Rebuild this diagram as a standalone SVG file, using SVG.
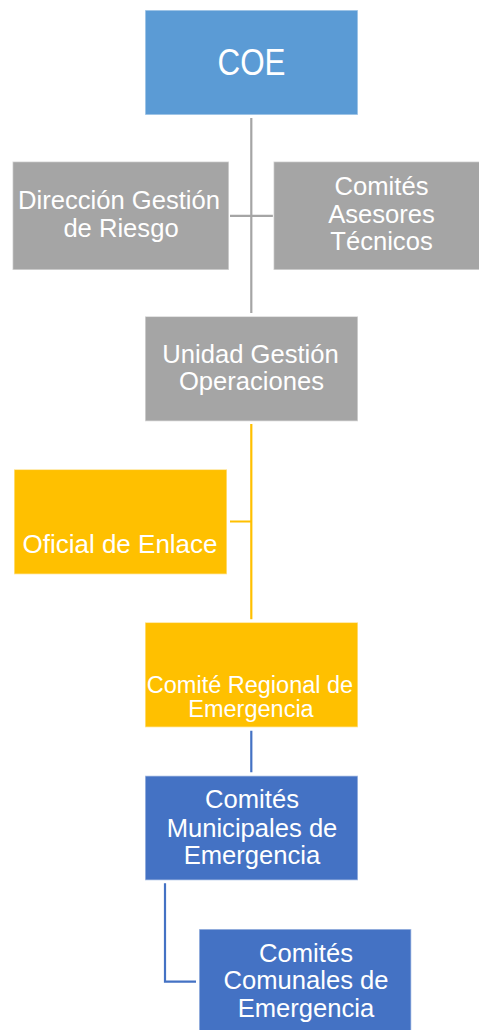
<svg xmlns="http://www.w3.org/2000/svg" width="479" height="1030" viewBox="0 0 479 1030">
<style>
text{font-family:"Liberation Sans",Arial,sans-serif;fill:#fff;text-anchor:middle}
.box{stroke:#fff;stroke-opacity:0.55;stroke-width:1.5}
.gray{fill:#A5A5A5}
.yel{fill:#FFC000}
.blue{fill:#4472C4}
.t{font-size:25.6px}
.c{fill:none;stroke-width:2.2}
</style>
<rect width="479" height="1030" fill="#fff"/>
<g id="connectors">
<path class="c" stroke="#A5A5A5" d="M251.3 118V313M230 215.8H273"/>
<path class="c" stroke="#FFC000" d="M251.3 424V619.3M230 521.5H251.3"/>
<path class="c" stroke="#4472C4" d="M251.3 730.7V772.3M165 883.3V981.7H196"/>
</g>
<g id="coe">
<rect class="box" x="145" y="10" width="213" height="105" fill="#5B9BD5"/>
<text x="251.5" y="75" font-size="37" textLength="68" lengthAdjust="spacingAndGlyphs">COE</text>
</g>
<g id="direccion">
<rect class="box gray" x="12.5" y="161.5" width="216.5" height="108.5"/>
<text class="t" x="119" y="209.3">Dirección Gestión</text>
<text class="t" x="121" y="236.7">de Riesgo</text>
</g>
<g id="asesores">
<rect class="box gray" x="273.5" y="161.5" width="216.5" height="108.5"/>
<text class="t" x="381.5" y="195">Comités</text>
<text class="t" x="381.5" y="222.5">Asesores</text>
<text class="t" x="381.5" y="250.3">Técnicos</text>
</g>
<g id="unidad">
<rect class="box gray" x="145" y="316.3" width="213" height="105"/>
<text class="t" x="250.5" y="362.7">Unidad Gestión</text>
<text class="t" x="251.5" y="390">Operaciones</text>
</g>
<g id="oficial">
<rect class="box yel" x="14" y="469.3" width="213" height="105"/>
<text x="120" y="553.3" font-size="26px">Oficial de Enlace</text>
</g>
<g id="regional">
<rect class="box yel" x="145" y="622.3" width="213" height="105"/>
<text x="250" y="693" font-size="23.5px">Comité Regional de</text>
<text x="251" y="717" font-size="23.5px">Emergencia</text>
</g>
<g id="municipales">
<rect class="box blue" x="145" y="775.7" width="213" height="104.6"/>
<text class="t" x="252" y="808.3">Comités</text>
<text class="t" x="252" y="836.7">Municipales de</text>
<text class="t" x="252" y="864.3">Emergencia</text>
</g>
<g id="comunales">
<rect class="box blue" x="199" y="929" width="212.3" height="110"/>
<text class="t" x="306" y="961.7">Comités</text>
<text class="t" x="306" y="989.3">Comunales de</text>
<text class="t" x="306" y="1016.7">Emergencia</text>
</g>
</svg>
